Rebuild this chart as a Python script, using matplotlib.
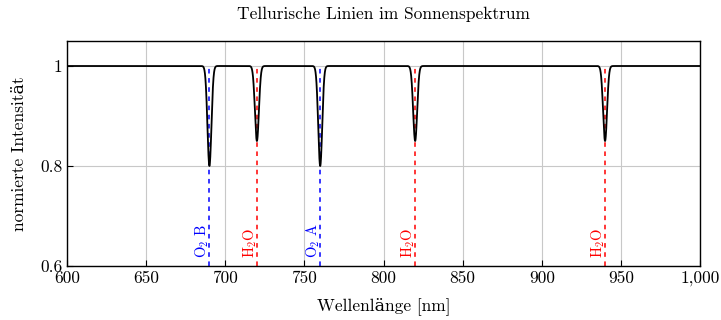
import numpy as np
import matplotlib
matplotlib.use("Agg")
import matplotlib.pyplot as plt
from matplotlib.ticker import FuncFormatter

plt.rcParams['font.family'] = ['cmr10', 'DejaVu Serif']
plt.rcParams['mathtext.fontset'] = 'cm'
plt.rcParams['axes.formatter.use_mathtext'] = True

line_centers = [690, 720, 760, 820, 940]
line_minima = [0.80, 0.85, 0.80, 0.85, 0.85]
line_labels = ['O$_2$ B', 'H$_2$O', 'O$_2$ A', 'H$_2$O', 'H$_2$O']
line_colors = ['blue', 'red', 'blue', 'red', 'red']
x_ticks = [600, 650, 700, 750, 800, 850, 900, 950, 1000]
y_ticks = [0.6, 0.8, 1.0]

x = np.linspace(600, 1000, 8001)
y = np.ones_like(x)
sigma = 1.25
for c, m in zip(line_centers, line_minima):
    y -= (1 - m) * np.exp(-0.5 * ((x - c) / sigma) ** 2)

fig = plt.figure(figsize=(7.21, 3.2), dpi=100)
ax = fig.add_axes([67/721, 54/320, 633/721, 225/320])
ax.set_xlim(600, 1000)
ax.set_ylim(0.6, 1.05)
ax.grid(True, color='#c8c8c8', linewidth=0.8)
ax.set_axisbelow(True)

for c, lab, col in zip(line_centers, line_labels, line_colors):
    ax.plot([c, c], [0.6, 1.0], color=col, linestyle=(0, (3, 3)), linewidth=1.1, zorder=2)
    ax.text(c - 4.5, 0.615, lab, color=col, rotation=90, ha='center', va='bottom', fontsize=10.5)

ax.plot(x, y, color='black', linewidth=1.3, zorder=3)

ax.set_xticks(x_ticks)
ax.set_yticks(y_ticks)
ax.xaxis.set_major_formatter(FuncFormatter(lambda v, p: f"{int(v):,}"))
ax.yaxis.set_major_formatter(FuncFormatter(lambda v, p: "1" if abs(v-1) < 1e-9 else f"{v:.1f}"))
ax.tick_params(direction='in', length=4, labelsize=12.5, top=False, right=False)
for s in ax.spines.values():
    s.set_linewidth(1.0)

ax.set_xlabel('Wellenlänge [nm]', fontsize=12.5, labelpad=8)
ax.set_ylabel('normierte Intensität', fontsize=12.5, labelpad=9)
ax.set_title('Tellurische Linien im Sonnenspektrum', fontsize=12.5, pad=16)

fig.savefig('out.png', dpi=100)
